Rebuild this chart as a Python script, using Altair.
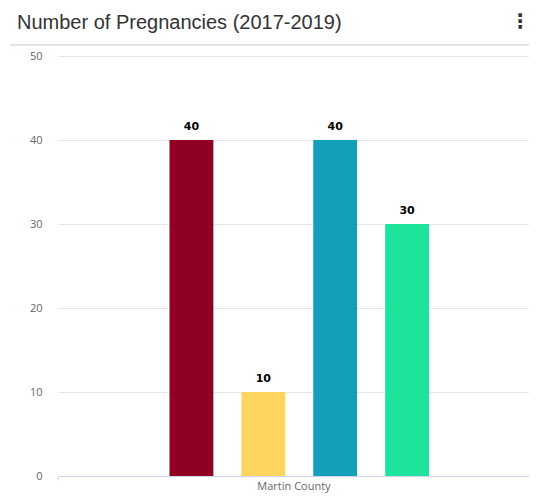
import altair as alt
import pandas as pd

title_text = "Number of Pregnancies (2017-2019)"
county = ["Martin County", "Martin County", "Martin County", "Martin County"]
series = ["Series 1", "Series 2", "Series 3", "Series 4"]
values = [40, 10, 40, 30]
colors = ["#8f0022", "#fed65f", "#139eb9", "#1de39c"]
y_ticks = [0, 10, 20, 30, 40, 50]

df = pd.DataFrame({"county": county, "series": series, "value": values})

W, H = 471, 420

base = alt.Chart(df).encode(
    x=alt.X(
        "county:N",
        title=None,
        scale=alt.Scale(paddingInner=0, paddingOuter=0),
        axis=alt.Axis(
            labelAngle=0, tickBand="extent", domainColor="#ccd6eb",
            tickColor="#ccd6eb", tickSize=4, labelColor="#666666",
            labelFontSize=11, labelFont="Open Sans", labelPadding=0,
            labelBaseline="top",
        ),
    ),
    xOffset=alt.XOffset(
        "series:N", sort=series,
        scale=alt.Scale(paddingInner=0.39, paddingOuter=0, range=[111.5, 371]),
    ),
)

bars = base.mark_bar().encode(
    y=alt.Y(
        "value:Q",
        scale=alt.Scale(domain=[0, 50], nice=False),
        axis=alt.Axis(
            values=y_ticks, title=None, ticks=False, domain=False,
            gridColor="#e6e6e6", labelColor="#666666", labelFontSize=11,
            labelPadding=16, labelFont="Open Sans",
        ),
    ),
    color=alt.Color("series:N", scale=alt.Scale(domain=series, range=colors), legend=None),
)

labels = base.mark_text(
    dy=-13, fontWeight="bold", fontSize=11, color="#000000", font="DejaVu Sans"
).encode(y="value:Q", text="value:Q")

sep = alt.Chart(pd.DataFrame({"a": [0]})).mark_rule(color="#e3e3e3", strokeWidth=2).encode(
    x=alt.value(-48), x2=alt.value(W), y=alt.value(-11)
)

title = alt.Chart(pd.DataFrame({"t": [title_text]})).mark_text(
    align="left", baseline="alphabetic", fontSize=20, font="Liberation Sans", color="#333333"
).encode(x=alt.value(-41), y=alt.value(-27), text="t:N")

kebab = alt.Chart(pd.DataFrame({"k": ["⋮"]})).mark_text(
    align="center", baseline="middle", fontSize=20, fontWeight="bold", color="#333333",
    font="DejaVu Sans",
).encode(x=alt.value(462), y=alt.value(-34), text="k:N")

chart = alt.layer(sep, title, kebab, bars, labels).properties(
    width=W, height=H,
    autosize=alt.AutoSizeParams(type="none"),
    padding={"left": 50, "top": 48, "right": 0, "bottom": 18},
).configure_view(stroke=None)

chart.save("out.html", embed_options={"renderer": "svg", "actions": False})
